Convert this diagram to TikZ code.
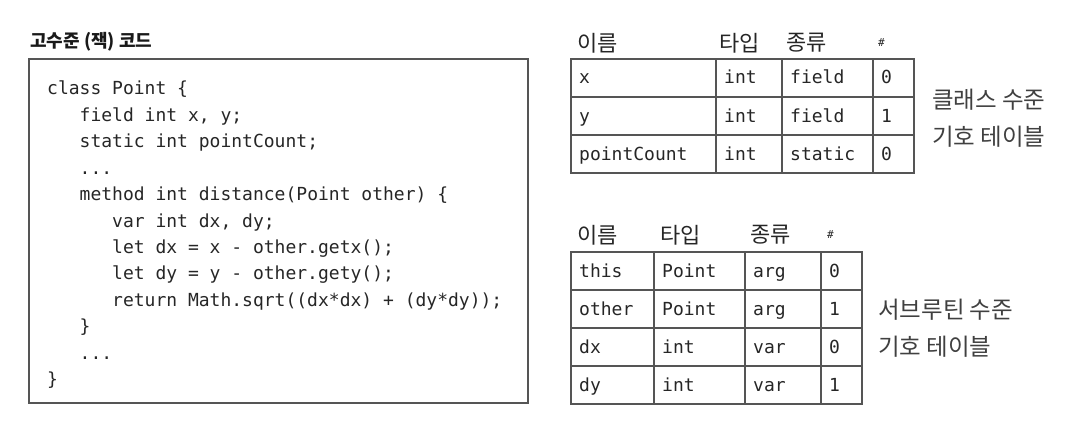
\documentclass[tikz,border=0pt]{standalone}
\usepackage{fontspec}
\setmonofont{DejaVu Sans Mono}
\newfontfamily\kr{Noto Sans CJK KR}
\definecolor{ink}{HTML}{262626}
\definecolor{rule}{HTML}{555555}
\begin{document}
\begin{tikzpicture}[x=1pt,y=-1pt,
  code/.style={anchor=base west, inner sep=0pt, font=\ttfamily\fontsize{18}{20}\selectfont, text=ink},
  hdr/.style={anchor=west, inner sep=0pt, font=\kr\fontsize{22}{24}\selectfont, text=ink},
  hash/.style={anchor=west, inner sep=0pt, font=\ttfamily\fontsize{11}{12}\selectfont, text=ink},
  lbl/.style={anchor=west, inner sep=0pt, font=\kr\fontsize{23.5}{26}\selectfont, text=black!75},
  ttl/.style={anchor=base west, inner sep=0pt, font=\kr\bfseries\fontsize{18}{20}\selectfont, text=black!90},
  grid/.style={draw=rule, line width=1.6pt}
]
\useasboundingbox (0,0) rectangle (1074,428);

% title and code box
\node[ttl] (title) at (30,48) {고수준 (잭) 코드};
\draw[grid] (29,59) rectangle (528,403);

\foreach \t/\ind [count=\k from 0] in {
  {class Point \{}/0,
  {field int x, y;}/1,
  {static int pointCount;}/1,
  {...}/1,
  {method int distance(Point other) \{}/1,
  {var int dx, dy;}/2,
  {let dx = x - other.getx();}/2,
  {let dy = y - other.gety();}/2,
  {return Math.sqrt((dx*dx) + (dy*dy));}/2,
  {\}}/1,
  {...}/1,
  {\}}/0}
  \node[code] (code\k) at ({47+32.5*\ind},{95+26.4*\k}) {\t};

% class-level table
\node[hdr] (ch1) at (577,43) {이름};
\node[hdr] (ch2) at (719,43) {타입};
\node[hdr] (ch3) at (786,43) {종류};
\node[hash] (ch4) at (878,43) {\#};
\draw[grid] (571,59) rectangle (914,173);
\foreach \y in {97,135} \draw[grid] (571,\y) -- (914,\y);
\foreach \x in {716,782,873} \draw[grid] (\x,59) -- (\x,173);
\foreach \a/\b/\c/\d [count=\r from 0] in {x/int/field/0, y/int/field/1, pointCount/int/static/0}{
  \node[code] (cA\r) at (579,{59+38*\r+25}) {\a};
  \node[code] (cB\r) at (724,{59+38*\r+25}) {\b};
  \node[code] (cC\r) at (790,{59+38*\r+25}) {\c};
  \node[code] (cD\r) at (881,{59+38*\r+25}) {\d};
}
\node[lbl] (cl1) at (932,100) {클래스 수준};
\node[lbl] (cl2) at (932,137) {기호 테이블};

% subroutine-level table
\node[hdr] (sh1) at (577,235) {이름};
\node[hdr] (sh2) at (660,235) {타입};
\node[hdr] (sh3) at (750,235) {종류};
\node[hash] (sh4) at (827,235) {\#};
\draw[grid] (571,252) rectangle (862,404);
\foreach \y in {290,328,366} \draw[grid] (571,\y) -- (862,\y);
\foreach \x in {654,745,821} \draw[grid] (\x,252) -- (\x,404);
\foreach \a/\b/\c/\d [count=\r from 0] in {this/Point/arg/0, other/Point/arg/1, dx/int/var/0, dy/int/var/1}{
  \node[code] (sA\r) at (579,{252+38*\r+25}) {\a};
  \node[code] (sB\r) at (662,{252+38*\r+25}) {\b};
  \node[code] (sC\r) at (753,{252+38*\r+25}) {\c};
  \node[code] (sD\r) at (829,{252+38*\r+25}) {\d};
}
\node[lbl] (sl1) at (878,310) {서브루틴 수준};
\node[lbl] (sl2) at (878,347) {기호 테이블};
\end{tikzpicture}
\end{document}
